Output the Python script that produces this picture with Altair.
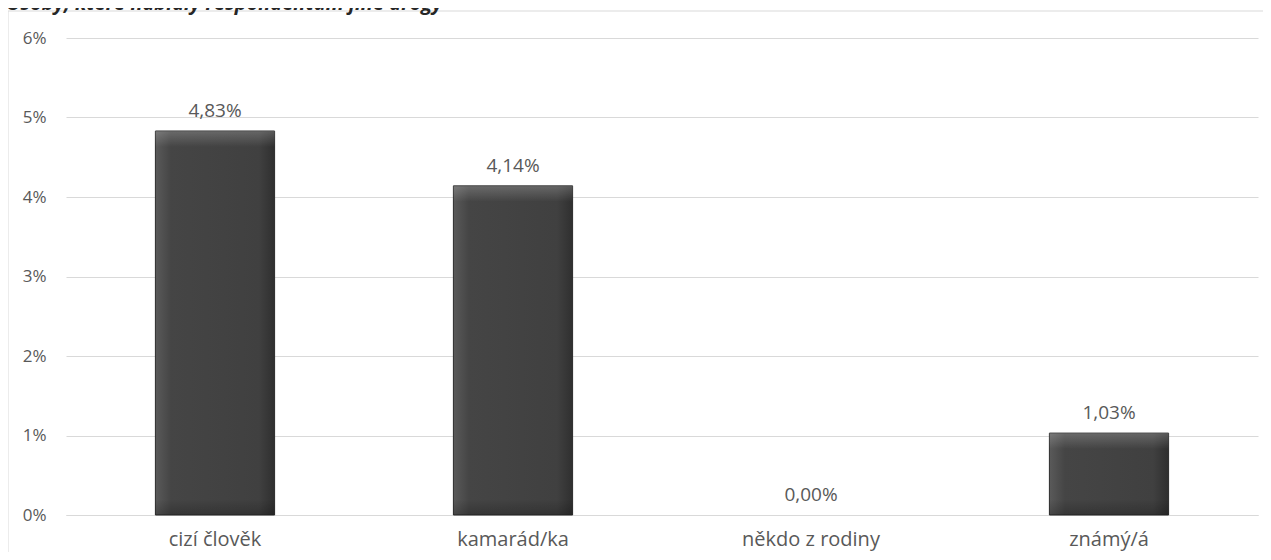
import altair as alt
import pandas as pd

categories = ["cizí člověk", "kamarád/ka", "někdo z rodiny", "známý/á"]
values = [4.83, 4.14, 0.00, 1.03]
y_ticks = [0, 1, 2, 3, 4, 5, 6]
title_text = "Osoby, které nabídly respondentům jiné drogy"

df = pd.DataFrame({
    "cat": categories,
    "val": values,
    "label": [f"{v:.2f}".replace(".", ",") + "%" for v in values],
})

FONT = "Open Sans"
TXT = "#595959"
W, H = 1192, 477

x_enc = alt.X("cat:N", sort=categories, title=None,
              scale=alt.Scale(paddingInner=0.6, paddingOuter=0.3),
              axis=alt.Axis(labelAngle=0, ticks=False, domainColor="#d9d9d9",
                            labelPadding=14, labelFontSize=20, labelColor=TXT,
                            labelFont=FONT))
y_enc = alt.Y("val:Q", title=None,
              scale=alt.Scale(domain=[0, 6], nice=False),
              axis=alt.Axis(values=y_ticks, labelExpr="datum.value + '%'",
                            ticks=False, domain=False, gridColor="#d9d9d9",
                            labelPadding=20, labelFontSize=17, labelColor=TXT,
                            labelFont=FONT))
x_plain = alt.X("cat:N", sort=categories)

base = alt.Chart(df)
nonzero = alt.condition("datum.val > 0", alt.value(1), alt.value(0))

bars = base.mark_bar(
    color=alt.Gradient(
        gradient="linear", x1=0, x2=1, y1=0, y2=0,
        stops=[alt.GradientStop(color="#5a5a5a", offset=0),
               alt.GradientStop(color="#454545", offset=0.13),
               alt.GradientStop(color="#404040", offset=0.87),
               alt.GradientStop(color="#2f2f2f", offset=1)]),
    stroke="#2b2b2b", strokeWidth=1,
).encode(x=x_enc, y=y_enc, strokeOpacity=nonzero)

top_band = base.transform_filter("datum.val > 0").transform_calculate(
    vtop="datum.val - 0.2"
).mark_bar(
    color=alt.Gradient(
        gradient="linear", x1=0, x2=0, y1=0, y2=1,
        stops=[alt.GradientStop(color="rgba(255,255,255,0.20)", offset=0),
               alt.GradientStop(color="rgba(255,255,255,0.0)", offset=1)]),
    strokeWidth=0,
).encode(x=x_plain, y="val:Q", y2="vtop:Q")

bottom_band = base.transform_filter("datum.val > 0").mark_bar(
    color=alt.Gradient(
        gradient="linear", x1=0, x2=0, y1=0, y2=1,
        stops=[alt.GradientStop(color="rgba(0,0,0,0.0)", offset=0),
               alt.GradientStop(color="rgba(0,0,0,0.22)", offset=1)]),
    strokeWidth=0,
).encode(x=x_plain, y=alt.datum(0.2), y2=alt.datum(0))

labels = base.mark_text(
    baseline="alphabetic", dy=-14, fontSize=19, font=FONT, color=TXT
).encode(x=x_plain, y="val:Q", text="label:N")

frame_left = alt.Chart(pd.DataFrame({"k": [0]})).mark_rule(
    color="#d9d9d9", strokeWidth=1
).encode(x=alt.value(-58), y=alt.value(-27), y2=alt.value(540))

frame_top = alt.Chart(pd.DataFrame({"k": [0]})).mark_rule(
    color="#d9d9d9", strokeWidth=1
).encode(x=alt.value(-58), x2=alt.value(1220), y=alt.value(-27))

title = alt.Chart(pd.DataFrame({"t": [title_text]})).mark_text(
    align="left", baseline="alphabetic", fontSize=20, fontWeight="bold",
    fontStyle="italic", font=FONT, color="#262626"
).encode(x=alt.value(-60), y=alt.value(-28), text="t:N")

chart = alt.layer(frame_left, frame_top, bars, top_band, bottom_band, labels, title).properties(
    width=W, height=H,
    autosize=alt.AutoSizeParams(type="none"),
    padding={"left": 58, "top": 30, "right": 5, "bottom": 37},
    background="white",
).configure_view(stroke=None)

chart.save("out.html", embed_options={"renderer": "svg", "actions": False})
